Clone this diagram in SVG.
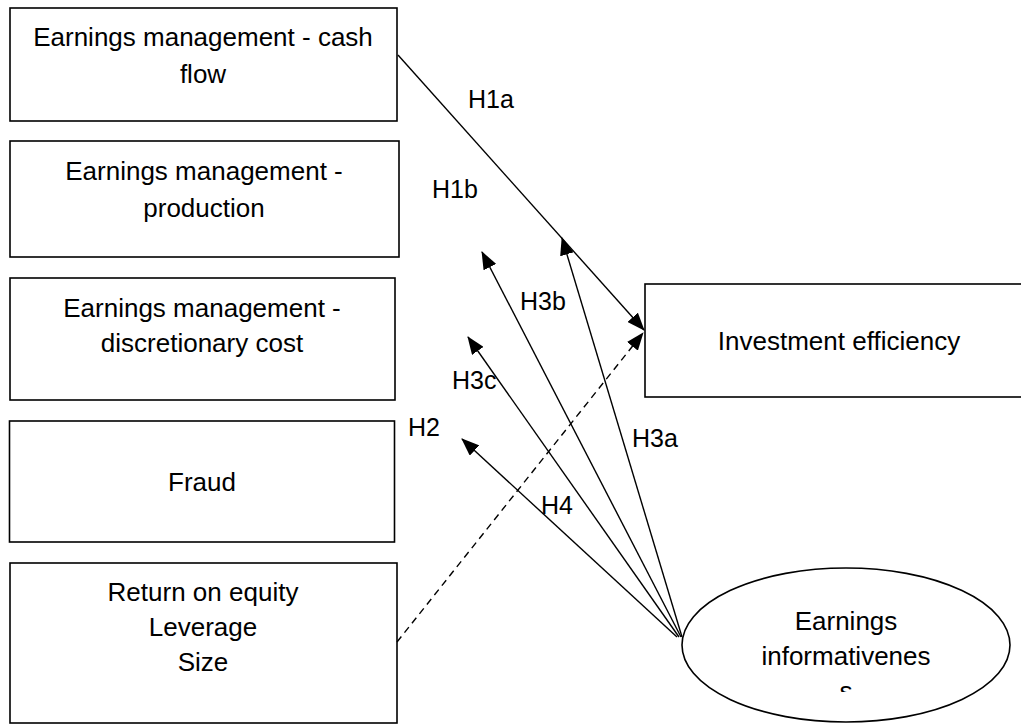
<svg xmlns="http://www.w3.org/2000/svg" width="1021" height="725" viewBox="0 0 1021 725">
  <defs>
    <marker id="arrow" markerUnits="userSpaceOnUse" markerWidth="18" markerHeight="14" viewBox="0 0 18 14" refX="17" refY="7" orient="auto">
      <path d="M0,0 L18,7 L0,14 Z" fill="#000"/>
    </marker>
    <clipPath id="ellipseText">
      <rect x="680" y="560" width="340" height="132"/>
    </clipPath>
  </defs>
  <style>
    .box { fill: #fff; stroke: #000; stroke-width: 1.6; }
    .label { font-family: "Liberation Sans", Arial, sans-serif; font-size: 26px; fill: #000; text-anchor: middle; }
    .hyp { font-family: "Liberation Sans", Arial, sans-serif; font-size: 25px; fill: #000; }
    .link { stroke: #000; stroke-width: 1.4; fill: none; }
    .dashed { stroke-dasharray: 7 5; }
  </style>
  <rect width="1021" height="725" fill="#fff"/>

  <!-- independent variables -->
  <g id="em-cash-flow">
    <rect class="box" x="10" y="8" width="387" height="113"/>
    <text class="label" x="203" y="46">Earnings management - cash</text>
    <text class="label" x="203" y="83">flow</text>
  </g>
  <g id="em-production">
    <rect class="box" x="10" y="141" width="389" height="116"/>
    <text class="label" x="204" y="180">Earnings management -</text>
    <text class="label" x="204" y="217">production</text>
  </g>
  <g id="em-discretionary-cost">
    <rect class="box" x="10" y="278" width="385" height="122"/>
    <text class="label" x="202" y="317">Earnings management -</text>
    <text class="label" x="202" y="352">discretionary cost</text>
  </g>
  <g id="fraud">
    <rect class="box" x="9.5" y="421" width="385" height="121"/>
    <text class="label" x="202" y="491">Fraud</text>
  </g>
  <g id="controls">
    <rect class="box" x="10" y="563" width="387" height="160"/>
    <text class="label" x="203" y="601">Return on equity</text>
    <text class="label" x="203" y="636">Leverage</text>
    <text class="label" x="203" y="671">Size</text>
  </g>

  <!-- dependent variable -->
  <g id="investment-efficiency">
    <rect class="box" x="645" y="284" width="390" height="113"/>
    <text class="label" x="839" y="350">Investment efficiency</text>
  </g>

  <!-- moderator -->
  <g id="earnings-informativeness">
    <ellipse class="box" cx="846" cy="645" rx="164" ry="77"/>
    <g clip-path="url(#ellipseText)">
      <text class="label" x="846" y="630">Earnings</text>
      <text class="label" x="846" y="665">informativenes</text>
      <text class="label" x="846" y="700">s</text>
    </g>
  </g>

  <!-- hypothesised paths -->
  <g id="connectors">
    <line class="link" x1="398" y1="55" x2="644" y2="330" marker-end="url(#arrow)"/>
    <line class="link dashed" x1="397" y1="642" x2="643" y2="333" marker-end="url(#arrow)"/>
    <line class="link" x1="682" y1="637" x2="562" y2="238" marker-end="url(#arrow)"/>
    <line class="link" x1="681" y1="637" x2="482" y2="252" marker-end="url(#arrow)"/>
    <line class="link" x1="679" y1="637" x2="468" y2="337" marker-end="url(#arrow)"/>
    <line class="link" x1="677" y1="637" x2="462" y2="439" marker-end="url(#arrow)"/>
  </g>

  <g id="hypothesis-labels">
    <text class="hyp" x="468" y="108">H1a</text>
    <text class="hyp" x="432" y="198">H1b</text>
    <text class="hyp" x="520" y="310">H3b</text>
    <text class="hyp" x="452" y="389">H3c</text>
    <text class="hyp" x="408" y="436">H2</text>
    <text class="hyp" x="632" y="447">H3a</text>
    <text class="hyp" x="541" y="514">H4</text>
  </g>
</svg>
